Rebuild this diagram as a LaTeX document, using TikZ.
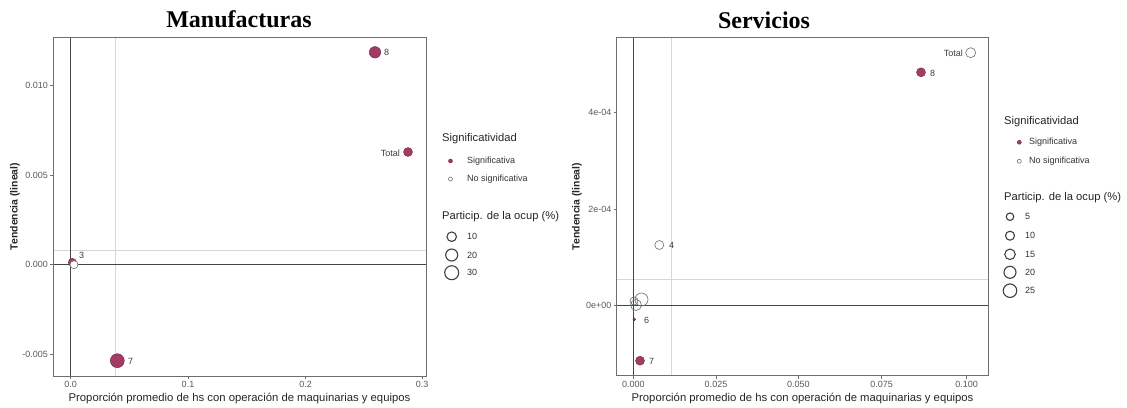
\documentclass[tikz,border=0pt]{standalone}
\usepackage{fontspec}
\setmainfont{Liberation Sans}
\newfontfamily\titlefont{Liberation Serif}
\definecolor{sigc}{RGB}{162,60,98}
\definecolor{sigd}{RGB}{110,35,65}
\definecolor{nsigc}{RGB}{110,110,110}
\definecolor{tickc}{RGB}{90,90,90}
\definecolor{framec}{RGB}{110,110,110}
\definecolor{refc}{RGB}{70,70,70}
\definecolor{lightc}{RGB}{215,215,215}
\definecolor{labc}{RGB}{60,60,60}
\tikzset{
  sig/.style={circle, fill=sigc, draw=sigd, line width=0.4pt, inner sep=0pt, minimum size=#1},
  nsig/.style={circle, draw=nsigc, line width=0.6pt, inner sep=0pt, minimum size=#1},
  nsigw/.style={nsig=#1, fill=white},
  ticklab/.style={font=\fontsize{9}{10}\selectfont, text=tickc, inner sep=1pt},
  ptlab/.style={font=\fontsize{9}{10}\selectfont, text=labc, inner sep=1pt},
  legtitle/.style={font=\fontsize{11.2}{12}\selectfont, text=black!85, anchor=west, inner sep=0pt},
  legitem/.style={font=\fontsize{9}{10}\selectfont, text=black!80, anchor=west, inner sep=0pt},
  legsize/.style={nsig=#1, line width=1.1pt, draw=black!75},
  ptitle/.style={font=\titlefont\bfseries\fontsize{24}{26}\selectfont, inner sep=0pt},
  xtitle/.style={font=\fontsize{11.3}{12}\selectfont, text=black!85, inner sep=0pt},
  ytitle/.style={font=\bfseries\fontsize{10.4}{12}\selectfont, text=black!85, inner sep=0pt, rotate=90},
  frame/.style={draw=framec, line width=0.9pt},
  refline/.style={draw=refc, line width=0.9pt},
  lightline/.style={draw=lightc, line width=0.7pt},
  tickline/.style={draw=framec, line width=0.6pt},
}
\begin{document}
\begin{tikzpicture}[x=1pt,y=-1pt]
\useasboundingbox (0,0) rectangle (1127,407);
\fill[white] (0,0) rectangle (1127,407);

% ================= Manufacturas =================
\node[ptitle] (t1) at (239,19) {Manufacturas};
% reference lines
\draw[lightline] (115.7,37) -- (115.7,376);
\draw[lightline] (53,250.3) -- (426,250.3);
\draw[refline] (70.7,37) -- (70.7,376);
\draw[refline] (53,264.3) -- (426,264.3);
\draw[frame] (53,37) rectangle (426,376);
% x ticks
\foreach \x/\l in {70.7/0.0,188/0.1,305.7/0.2,422/0.3}{
  \draw[tickline] (\x,376) -- (\x,379);
  \node[ticklab, anchor=north] at (\x,380) {\l};
}
% y ticks
\foreach \y/\l in {85.7/0.010,175/0.005,264.3/0.000,354.3/-0.005}{
  \draw[tickline] (53,\y) -- (50,\y);
  \node[ticklab, anchor=east] at (49,\y) {\l};
}
\node[xtitle] (xt1) at (239.5,399) {Proporción promedio de hs con operación de maquinarias y equipos};
\node[ytitle] (yt1) at (15,206.5) {Tendencia (lineal)};
% points
\node[sig=11.5pt] (m8) at (375,52.3) {};
\node[ptlab, anchor=west] (m8l) at (383,52.5) {8};
\node[sig=9pt] (mT) at (408,152) {};
\node[ptlab, anchor=east] (mTl) at (401,153) {Total};
\node[sig=14pt] (m7) at (117.3,360.7) {};
\node[ptlab, anchor=west] (m7l) at (127,361) {7};
\node[sig=8pt] (m3a) at (72.3,262.3) {};
\node[nsigw=8pt] (m3b) at (74,264.7) {};
\node[ptlab] (m3l) at (81.7,255) {3};
% legend
\node[legtitle] (lg1) at (442,139) {Significatividad};
\node[sig=4pt] (lg1a) at (450.5,161) {};
\node[legitem] (lg1at) at (467,161) {Significativa};
\node[nsig=4pt] (lg1b) at (450.5,179) {};
\node[legitem] (lg1bt) at (467,179) {No significativa};
\node[legtitle] (lg1s) at (442,217) {Particip. de la ocup (\%)};
\node[legsize=9.5pt] (s10) at (451.7,236.7) {};
\node[legitem] (s10t) at (467,236.7) {10};
\node[legsize=12pt] (s20) at (451.7,255) {};
\node[legitem] (s20t) at (467,255) {20};
\node[legsize=14pt] (s30) at (451.7,272.7) {};
\node[legitem] (s30t) at (467,272.7) {30};

% ================= Servicios =================
\node[ptitle] (t2) at (764,20) {Servicios};
\draw[lightline] (671,37.3) -- (671,375.7);
\draw[lightline] (616.7,279.3) -- (988.3,279.3);
\draw[refline] (633.3,37.3) -- (633.3,375.7);
\draw[refline] (616.7,305) -- (988.3,305);
\draw[frame] (616.7,37.3) rectangle (988.3,375.7);
\foreach \x/\l in {633.3/0.000,716/0.025,798.3/0.050,881.7/0.075,966.7/0.100}{
  \draw[tickline] (\x,375.7) -- (\x,378.7);
  \node[ticklab, anchor=north] at (\x,380) {\l};
}
\foreach \y/\l in {112.7/4e-04,209/2e-04,305/0e+00}{
  \draw[tickline] (616.7,\y) -- (613.7,\y);
  \node[ticklab, anchor=east] at (612.7,\y) {\l};
}
\node[xtitle] (xt2) at (802.5,399) {Proporción promedio de hs con operación de maquinarias y equipos};
\node[ytitle] (yt2) at (577,206.5) {Tendencia (lineal)};
% points
\node[nsig=10pt] (sT) at (970.7,52.7) {};
\node[ptlab, anchor=east] (sTl) at (964,53) {Total};
\node[sig=9pt] (s8) at (921,72.3) {};
\node[ptlab, anchor=west] (s8l) at (929,73) {8};
\node[nsig=9pt] (s4) at (659.3,245) {};
\node[ptlab, anchor=west] (s4l) at (668,245.5) {4};
\node[nsig=8pt] (sc1) at (634,301) {};
\node[nsig=13pt] (sc2) at (641.5,299.5) {};
\node[nsig=11pt] (sc3) at (636,305) {};
\node[sig=2.8pt] (s6) at (634.3,319.3) {};
\node[ptlab, anchor=west] (s6l) at (643,320.5) {6};
\node[sig=9pt] (s7) at (640,360.7) {};
\node[ptlab, anchor=west] (s7l) at (648,361.5) {7};
% legend
\node[legtitle] (lg2) at (1004,121.7) {Significatividad};
\node[sig=4pt] (lg2a) at (1019.3,142.3) {};
\node[legitem] (lg2at) at (1029,142.3) {Significativa};
\node[nsig=4pt] (lg2b) at (1019.3,161.3) {};
\node[legitem] (lg2bt) at (1029,161.3) {No significativa};
\node[legtitle] (lg2s) at (1004,197.7) {Particip. de la ocup (\%)};
\node[legsize=7.5pt] (r5) at (1010,216.7) {};
\node[legitem] (r5t) at (1025,216.7) {5};
\node[legsize=9pt] (r10) at (1010,235.7) {};
\node[legitem] (r10t) at (1025,235.7) {10};
\node[legsize=10.5pt] (r15) at (1010,254.3) {};
\node[legitem] (r15t) at (1025,254.3) {15};
\node[legsize=12pt] (r20) at (1010,272.3) {};
\node[legitem] (r20t) at (1025,272.3) {20};
\node[legsize=13.5pt] (r25) at (1010,290.7) {};
\node[legitem] (r25t) at (1025,290.7) {25};
\end{tikzpicture}
\end{document}
